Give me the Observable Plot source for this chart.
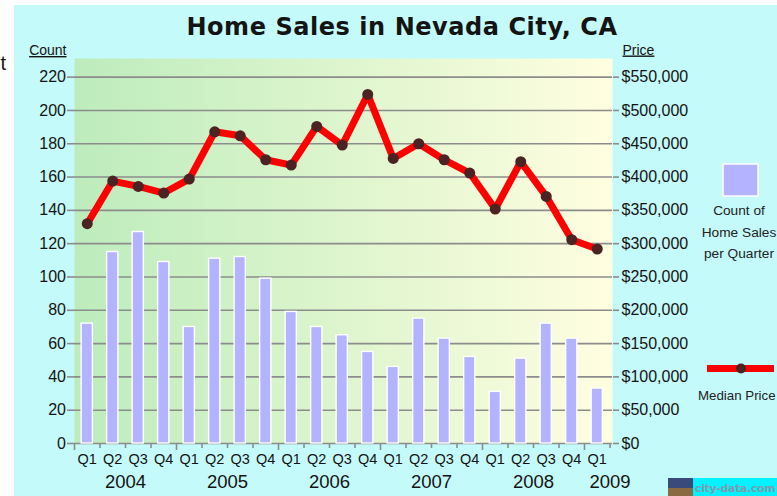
<!DOCTYPE html>
<html><head><meta charset="utf-8">
<script src="https://cdn.jsdelivr.net/npm/d3@7"></script>
<script src="https://cdn.jsdelivr.net/npm/@observablehq/plot@0.6"></script>
<style>body{margin:0;background:#fff;} #chart svg{display:block}</style>
</head><body><div id="chart"></div>
<script>
// ---- data ----
const periods = ["2004 Q1","2004 Q2","2004 Q3","2004 Q4","2005 Q1","2005 Q2","2005 Q3","2005 Q4",
  "2006 Q1","2006 Q2","2006 Q3","2006 Q4","2007 Q1","2007 Q2","2007 Q3","2007 Q4",
  "2008 Q1","2008 Q2","2008 Q3","2008 Q4","2009 Q1"];
const quarterLabels = ["Q1","Q2","Q3","Q4","Q1","Q2","Q3","Q4","Q1","Q2","Q3","Q4",
  "Q1","Q2","Q3","Q4","Q1","Q2","Q3","Q4","Q1"];
const salesCount = [72,115,127,109,70,111,112,99,79,70,65,55,46,75,63,52,31,51,72,63,33];
const medianPrice = [330000,394000,386000,376000,397000,468000,462000,426000,418000,476000,448000,
  524000,428000,450000,426000,406000,352000,423000,371000,306000,292000];
const countTicks = [0,20,40,60,80,100,120,140,160,180,200,220];
const priceTicks = [0,50000,100000,150000,200000,250000,300000,350000,400000,450000,500000,550000];
const priceTickLabels = ["$0","$50,000","$100,000","$150,000","$200,000","$250,000","$300,000",
  "$350,000","$400,000","$450,000","$500,000","$550,000"];
const yearLabels = ["2004","2005","2006","2007","2008","2009"];
const yearAnchor = ["2004 Q2","2005 Q2","2006 Q2","2007 Q2","2008 Q2","2009 Q1"];

// price axis is aligned with the count axis ($550,000 <-> 220)
const PRICE_PER_COUNT = priceTicks[priceTicks.length-1] / countTicks[countTicks.length-1];
const rows = periods.map((p,i) => ({period:p, q:quarterLabels[i], count:salesCount[i],
  price:medianPrice[i], priceY: medianPrice[i]/PRICE_PER_COUNT}));
const priceLabelByTick = new Map(priceTicks.map((p,i)=>[p/PRICE_PER_COUNT, priceTickLabels[i]]));

// ---- layout ----
const W=777, H=496, mL=74, mR=165, mT=58, mB=53, insetR=2.5;
const frameH = H - mT - mB;
const step = (W - mL - mR - insetR) / periods.length;
const GRID = "#8c8c8c", TXT = "#141414";
const FONT = "'Liberation Sans', Arial, sans-serif";

const svg = Plot.plot({
  width: W, height: H, marginLeft: mL, marginRight: mR, marginTop: mT, marginBottom: mB,
  style: {fontFamily: FONT, background: "transparent", overflow: "visible", color: TXT},
  x: {type: "band", domain: periods, paddingInner: 0.56, paddingOuter: 0.28, insetRight: insetR, round: false},
  y: {domain: [0, 231.2]},
  marks: [
    Plot.frame({fill: "url(#plotbg)", stroke: "none"}),
    Plot.gridY({ticks: countTicks, stroke: GRID, strokeOpacity: 1, strokeWidth: 1.6}),
    Plot.axisY({anchor: "left", ticks: countTicks, tickSize: 7, tickPadding: 1.5, fontSize: 16,
      stroke: GRID, strokeWidth: 1.6, fill: TXT, label: null}),
    Plot.axisY({anchor: "right", ticks: priceTicks.map(p=>p/PRICE_PER_COUNT), tickSize: 6, tickPadding: 3,
      fontSize: 16, stroke: GRID, strokeWidth: 1.6, fill: TXT, label: null,
      tickFormat: d => priceLabelByTick.get(d)}),
    Plot.axisX({tickSize: 0, tickPadding: 10, fontSize: 14.5, fill: TXT, label: null,
      tickFormat: (d) => quarterLabels[periods.indexOf(d)]}),
    Plot.ruleX(rows.filter(d=>d.q!=="Q1"), {x:"period", dx:-step/2, insetTop: frameH-5, dy:5, stroke: GRID, strokeWidth:1.6}),
    Plot.ruleX(rows.filter(d=>d.q==="Q1"), {x:"period", dx:-step/2, insetTop: frameH-7, dy:7, stroke: GRID, strokeWidth:1.6}),
    Plot.ruleX(rows.slice(-1), {x:"period", dx:step/2, insetTop: frameH-5, dy:5, stroke: GRID, strokeWidth:1.6}),
    Plot.text(yearLabels, {x: yearAnchor, text: d=>d, frameAnchor: "bottom", dx: step/2, dy: 39,
      lineAnchor: "middle", fontSize: 18.5, fill: TXT}),
    Plot.barY(rows, {x:"period", y:"count", fill:"#b3b3ff", stroke:"white", strokeWidth:1.4}),
    Plot.line(rows, {x:"period", y:"priceY", stroke:"#ff0000", strokeWidth:7, strokeLinejoin:"round", strokeLinecap:"round"}),
    Plot.dot(rows, {x:"period", y:"priceY", r:5.5, fill:"#4b2323", stroke:"none"})
  ]
});

const s = d3.select(svg);
const bg = s.insert("g", ":first-child");
bg.append("rect").attr("width", W).attr("height", H).attr("fill", "#fff");
bg.append("rect").attr("x", 14).attr("y", 5).attr("width", W-14).attr("height", H-5).attr("fill", "#c5fafa");
const defs = s.insert("defs", ":first-child");
const lg = defs.append("linearGradient").attr("id","plotbg").attr("x1","0").attr("x2","1").attr("y1","0").attr("y2","0");
lg.append("stop").attr("offset","0").attr("stop-color","#bdecbc");
lg.append("stop").attr("offset","1").attr("stop-color","#fffee0");

const ov = s.append("g").attr("font-family", FONT).attr("fill", TXT).attr("text-anchor","start");
ov.append("text").attr("x", 6).attr("y", 70).attr("text-anchor","end").attr("font-size",20).text("t");
ov.append("text").attr("x", 402).attr("y", 35).attr("text-anchor","middle")
  .attr("font-family","'DejaVu Sans', Verdana, sans-serif").attr("font-weight","bold").attr("font-size",24)
  .attr("letter-spacing","0.55").text("Home Sales in Nevada City, CA");
ov.append("text").attr("x", 66.5).attr("y", 55).attr("text-anchor","end").attr("font-size",14)
  .attr("text-decoration","underline").text("Count");
ov.append("text").attr("x", 622.5).attr("y", 54.5).attr("text-anchor","start").attr("font-size",14)
  .attr("text-decoration","underline").text("Price");
// legend: count
ov.append("rect").attr("x",723).attr("y",164).attr("width",35).attr("height",32)
  .attr("fill","#b3b3ff").attr("stroke","white").attr("stroke-width",1.5);
[["Count of",215],["Home Sales",236.5],["per Quarter",257.5]].forEach(([t,y]) =>
  ov.append("text").attr("x",739).attr("y",y).attr("text-anchor","middle").attr("font-size",13.7).attr("fill","#222").text(t));
// legend: median price
ov.append("line").attr("x1",707).attr("x2",774).attr("y1",368.5).attr("y2",368.5)
  .attr("stroke","#ff0000").attr("stroke-width",7);
ov.append("circle").attr("cx",741).attr("cy",368.5).attr("r",5).attr("fill","#4b2323");
ov.append("text").attr("x",698).attr("y",400).attr("text-anchor","start").attr("font-size",13.3).attr("fill","#222").text("Median Price");
// city-data badge
ov.append("rect").attr("x",668).attr("y",478).attr("width",25).attr("height",18).attr("fill","#3a4a7a");
ov.append("rect").attr("x",668).attr("y",488).attr("width",25).attr("height",8).attr("fill","#8a6a40");
ov.append("rect").attr("x",693).attr("y",478).attr("width",84).attr("height",18).attr("fill","#00f2ff");
ov.append("text").attr("x",695).attr("y",492).attr("text-anchor","start").attr("font-family","'DejaVu Sans', Verdana, sans-serif")
  .attr("font-weight","bold").attr("font-size",11).attr("letter-spacing","-0.35").attr("fill","#7a9eae").text("city-data.com");

document.getElementById("chart").appendChild(svg);
</script>
</body></html>
